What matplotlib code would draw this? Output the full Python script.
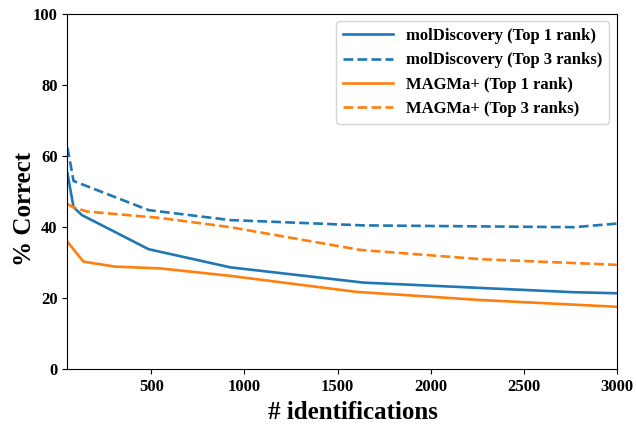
import matplotlib
matplotlib.use("Agg")
import matplotlib.pyplot as plt

# values
mol_top1_x = [50, 83, 128, 486, 924, 1640, 2768, 3000]
mol_top1_y = [55.2, 45.6, 43.4, 33.8, 28.7, 24.4, 21.7, 21.4]

mol_top3_x = [50, 83, 486, 924, 1640, 2768, 3000]
mol_top3_y = [62.4, 53.0, 44.8, 42.0, 40.5, 40.0, 41.0]

magma_top1_x = [50, 136, 307, 548, 924, 1600, 2267, 3000]
magma_top1_y = [35.9, 30.3, 28.9, 28.4, 26.3, 21.8, 19.5, 17.6]

magma_top3_x = [50, 83, 155, 548, 924, 1622, 2267, 3000]
magma_top3_y = [46.5, 45.6, 44.4, 42.6, 40.0, 33.6, 31.0, 29.4]

plt.rcParams['font.family'] = ['Liberation Serif', 'DejaVu Serif']
plt.rcParams['font.weight'] = 'bold'

fig = plt.figure(figsize=(6.36, 4.24), dpi=100)
ax = fig.add_axes([0.106, 0.129, 0.864, 0.838])

ax.plot(mol_top1_x, mol_top1_y, color='#1f77b4', lw=1.9, label='molDiscovery (Top 1 rank)')
ax.plot(mol_top3_x, mol_top3_y, color='#1f77b4', lw=1.9, ls='--', label='molDiscovery (Top 3 ranks)')
ax.plot(magma_top1_x, magma_top1_y, color='#ff7f0e', lw=1.9, label='MAGMa+ (Top 1 rank)')
ax.plot(magma_top3_x, magma_top3_y, color='#ff7f0e', lw=1.9, ls='--', label='MAGMa+ (Top 3 ranks)')

ax.set_xlim(50, 3000)
ax.set_ylim(0, 100)
ax.set_xticks([500, 1000, 1500, 2000, 2500, 3000])
ax.set_yticks([0, 20, 40, 60, 80, 100])
ax.tick_params(labelsize=12)
for lab in ax.get_xticklabels() + ax.get_yticklabels():
    lab.set_fontweight('bold')

ax.set_xlabel('# identifications', fontsize=18, fontweight='bold')
ax.set_ylabel('% Correct', fontsize=18, fontweight='bold')
ax.xaxis.set_label_coords(0.519, -0.088)
ax.yaxis.set_label_coords(-0.057, 0.451)

leg = ax.legend(loc='upper right', prop={'weight': 'bold', 'size': 12},
                handlelength=3.0, borderaxespad=0.45)

plt.savefig("out.png", dpi=100)
